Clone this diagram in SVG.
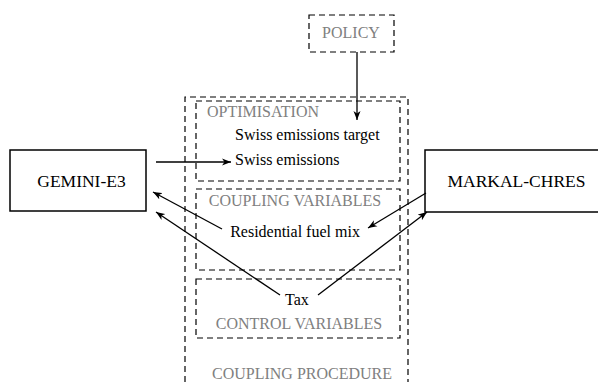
<svg xmlns="http://www.w3.org/2000/svg" width="598" height="382" viewBox="0 0 598 382">
<defs>
<marker id="ah" markerWidth="10" markerHeight="8" refX="9" refY="4" orient="auto" markerUnits="userSpaceOnUse">
<path d="M0,0.5 L9,4 L0,7.5 L2.5,4 Z" fill="#000"/>
</marker>
<style>
.dash{fill:none;stroke:#000;stroke-width:1.2;stroke-dasharray:6,4}
.node{fill:#fff;stroke:#000;stroke-width:1.5}
.t{font-family:"Liberation Serif","Times New Roman",serif;font-size:16px;fill:#000}
.g{font-family:"Liberation Serif","Times New Roman",serif;font-size:16px;fill:#808080}
.n{font-family:"Liberation Serif","Times New Roman",serif;font-size:17.5px;fill:#000}
.c{fill:none;stroke:#000;stroke-width:1.3;marker-end:url(#ah)}
</style>
</defs>
<rect width="598" height="382" fill="#fff"/>
<g id="coupling-procedure">
<path class="dash" d="M185,392 L185,97 L408,97 L408,392"/>
<text class="g" x="302" y="379" text-anchor="middle">COUPLING PROCEDURE</text>
</g>
<g id="optimisation">
<rect class="dash" x="196" y="101" width="204" height="80"/>
<text class="g" x="207" y="117">OPTIMISATION</text>
<text class="t" x="235" y="140">Swiss emissions target</text>
<text class="t" x="235" y="165">Swiss emissions</text>
</g>
<g id="coupling-variables">
<rect class="dash" x="196" y="189" width="204" height="81"/>
<text class="g" x="295" y="206" text-anchor="middle">COUPLING VARIABLES</text>
<text class="t" x="295" y="237" text-anchor="middle">Residential fuel mix</text>
</g>
<g id="control-variables">
<rect class="dash" x="196" y="279" width="204" height="59"/>
<text class="t" x="297" y="305" text-anchor="middle">Tax</text>
<text class="g" x="299" y="329" text-anchor="middle">CONTROL VARIABLES</text>
</g>
<g id="policy">
<rect class="dash" x="309" y="15" width="85" height="37"/>
<text class="g" x="351" y="38" text-anchor="middle">POLICY</text>
</g>
<g id="gemini">
<rect class="node" x="10" y="150" width="136" height="61"/>
<text class="n" x="81.5" y="187" text-anchor="middle">GEMINI-E3</text>
</g>
<g id="markal">
<rect class="node" x="425" y="150" width="190" height="62"/>
<text class="n" x="516.5" y="187" text-anchor="middle">MARKAL-CHRES</text>
</g>
<g id="connectors">
<line class="c" x1="357" y1="52" x2="357" y2="120"/>
<line class="c" x1="156" y1="162" x2="231" y2="162"/>
<line class="c" x1="222" y1="229" x2="153" y2="192"/>
<line class="c" x1="280" y1="295" x2="156" y2="212"/>
<line class="c" x1="426" y1="193" x2="368" y2="228"/>
<line class="c" x1="318" y1="295" x2="427" y2="212"/>
</g>
</svg>
